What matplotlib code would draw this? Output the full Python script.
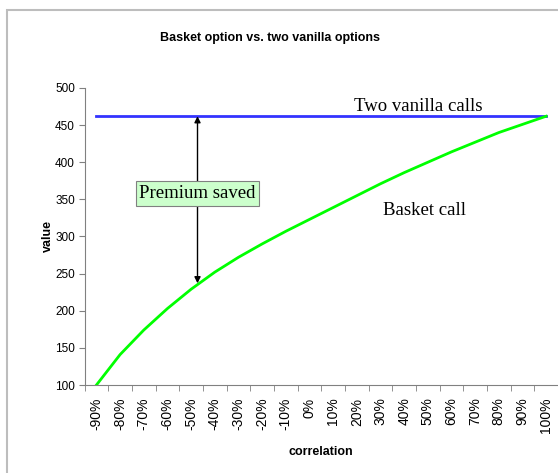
import matplotlib.pyplot as plt
from matplotlib.patches import Rectangle

# correlation categories and option values
correlation = ['-90%', '-80%', '-70%', '-60%', '-50%', '-40%', '-30%', '-20%', '-10%', '0%',
               '10%', '20%', '30%', '40%', '50%', '60%', '70%', '80%', '90%', '100%']
basket_call = [100, 141, 174, 203, 229, 252, 272, 290, 307, 323,
               339, 355, 371, 386, 400, 414, 427, 440, 451, 462]
vanilla_calls = [462] * len(correlation)

fig = plt.figure(figsize=(5.58, 4.73), dpi=100)
# outer chart frame
fig.patches.append(Rectangle((7 / 558, -0.1), 1.2, 1 - 10 / 473 + 0.1, transform=fig.transFigure,
                             fill=False, edgecolor='#bdbdbd', linewidth=1.5))

ax = fig.add_axes([84.6 / 558, 1 - 385 / 473, (558 - 84.6) / 558, (385 - 88) / 473])
x = range(len(correlation))
ax.plot(x, vanilla_calls, color='#3333ff', linewidth=2)
ax.plot(x, basket_call, color='#00ff00', linewidth=2)

ax.set_xlim(-0.5, len(correlation) - 0.5)
ax.set_ylim(100, 500)
ax.set_yticks(range(100, 501, 50))
ax.set_xticks(list(x))
ax.set_xticklabels(correlation, rotation=90)
ax.set_xticks([i + 0.5 for i in range(-1, len(correlation))], minor=True)
ax.tick_params(axis='x', which='major', length=0, pad=9)
ax.tick_params(axis='x', which='minor', length=4, direction='out', color='#808080')
ax.tick_params(axis='y', length=4, direction='out', color='#808080', pad=3)
for lab in ax.get_xticklabels():
    lab.set_fontfamily('Liberation Sans')
    lab.set_fontsize(10)
for lab in ax.get_yticklabels():
    lab.set_fontfamily('Liberation Sans')
    lab.set_fontsize(8.5)
for side in ['top', 'right']:
    ax.spines[side].set_visible(False)
for side in ['left', 'bottom']:
    ax.spines[side].set_color('#808080')

ax.set_xlabel('correlation', fontfamily='Liberation Sans', fontsize=9, fontweight='bold', labelpad=9)
ax.set_ylabel('value', fontfamily='Liberation Sans', fontsize=9, fontweight='bold', labelpad=1)
fig.text(270 / 558, 1 - 38 / 473, 'Basket option vs. two vanilla options', ha='center', va='center',
         fontfamily='Liberation Sans', fontsize=9, fontweight='bold')

# annotations
arrow_x = 4.27
ax.annotate('', xy=(arrow_x, 237), xytext=(arrow_x, 462),
            arrowprops=dict(arrowstyle='<|-|>', color='black', lw=1, mutation_scale=9, shrinkA=0, shrinkB=0))
ax.text(arrow_x, 358, 'Premium saved', ha='center', va='center', fontfamily='Liberation Serif', fontsize=13.5,
        bbox=dict(boxstyle='square,pad=0.2', facecolor='#ccffcc', edgecolor='#808080', linewidth=0.8))
ax.text(13.6, 463, 'Two vanilla calls', ha='center', va='bottom', fontfamily='Liberation Serif', fontsize=13.5)
ax.text(13.86, 335, 'Basket call', ha='center', va='center', fontfamily='Liberation Serif', fontsize=13.5)

plt.savefig('out.png', dpi=100)
plt.close()
